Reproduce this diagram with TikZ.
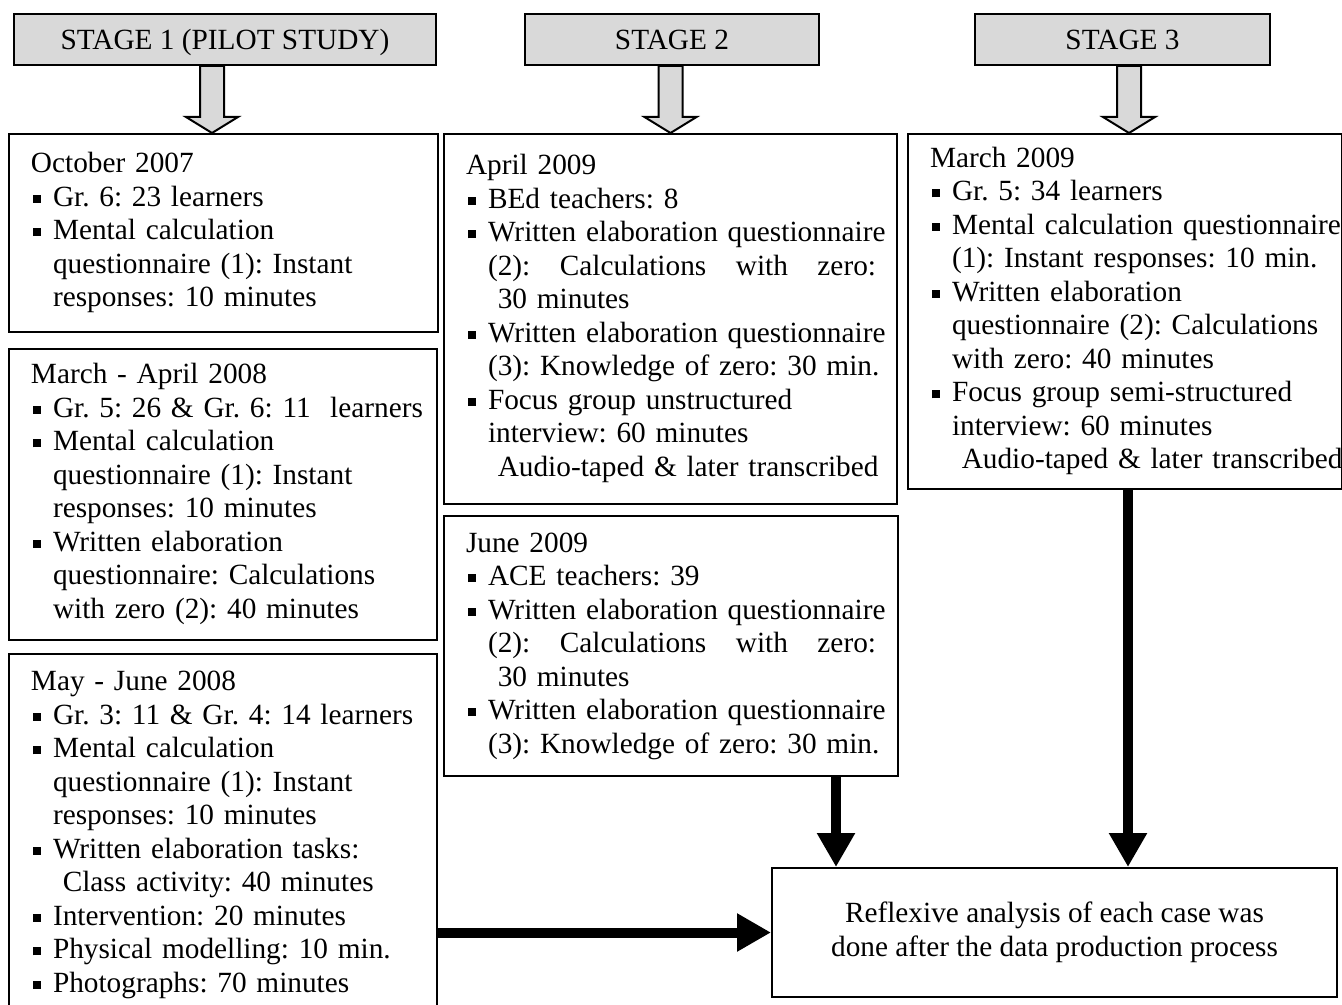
\documentclass[tikz,border=0pt]{standalone}
\usepackage{fontspec}
\setmainfont{Liberation Serif}
\frenchspacing
\usetikzlibrary{arrows.meta,calc}
\tikzset{
  txt/.style = {font=\fontsize{14.65pt}{16.75pt}\selectfont},
  stage/.style = {txt, draw=black, fill=gray!30, line width=1pt,
    minimum height=25.5pt, inner sep=0pt, text height=9.7pt, text depth=0pt},
  case/.style = {txt, draw=black, line width=1pt, anchor=north west,
    inner xsep=11pt, inner ysep=0pt, align=left},
  result/.style = {txt, draw=black, line width=1pt, align=center,
    minimum width=282.5pt, minimum height=64.5pt},
  stagearr/.style = {draw=black, fill=gray!30, line width=1pt},
  flow/.style = {line width=5pt, -{Triangle[length=17pt,width=18pt]}}
}
\newcommand{\bul}{\hspace*{1pt}\rule[1.8pt]{4pt}{4pt}\hspace*{6pt}}
\newcommand{\cnt}{\hspace*{11pt}}
\newcommand{\lines}[1]{\noindent\begin{tabular}{@{}l@{}}#1\end{tabular}}
\newcommand{\stagearrow}[3][0pt]{%
  \draw[stagearr] let \p1=(#2.south), \p2=([xshift=#1]#3.north) in
    (\x2-6pt,\y1) -- (\x2-6pt,\y2+8pt) -- (\x2-13pt,\y2+8pt) -- (\x2,\y2)
    -- (\x2+13pt,\y2+8pt) -- (\x2+6pt,\y2+8pt) -- (\x2+6pt,\y1) -- cycle;}

\begin{document}
\begin{tikzpicture}[x=0.5pt,y=-0.5pt]
\useasboundingbox (0,0) rectangle (1342,1005);

% stage headers
\node [stage, minimum width=211pt] (s1) at (225,39.5) {STAGE 1 (PILOT STUDY)};
\node [stage, minimum width=147pt] (s2) at (672,39.5) {STAGE 2};
\node [stage, minimum width=147.5pt] (s3) at (1122.5,39.5) {STAGE 3};

% stage 1
\node [case, text width=192.5pt, minimum height=99pt] (oct07) at (8,133) {\lines{%
  October 2007\\
  \bul Gr. 6: 23 learners\\
  \bul Mental calculation\\
  \cnt questionnaire (1): Instant\\
  \cnt responses: 10 minutes}};
\node [case, text width=192pt, minimum height=145.5pt] (marapr08) at (8,348) {\lines{%
  March - April 2008\\
  \bul Gr. 5: 26 \& Gr. 6: 11\ \ learners\\
  \bul Mental calculation\\
  \cnt questionnaire (1): Instant\\
  \cnt responses: 10 minutes\\
  \bul Written elaboration\\
  \cnt questionnaire: Calculations\\
  \cnt with zero (2): 40 minutes}};
\node [case, text width=192pt, minimum height=181pt] (mayjun08) at (8,653) {\lines{%
  May - June 2008\\
  \bul Gr. 3: 11 \& Gr. 4: 14 learners\\
  \bul Mental calculation\\
  \cnt questionnaire (1): Instant\\
  \cnt responses: 10 minutes\\
  \bul Written elaboration tasks:\\
  \cnt\ Class activity: 40 minutes\\
  \bul Intervention: 20 minutes\\
  \bul Physical modelling: 10 min.\\
  \bul Photographs: 70 minutes}};

% stage 2
\node [case, text width=204.5pt, minimum height=185pt] (apr09) at (443,133) {\lines{%
  April 2009\\
  \bul BEd teachers: 8\\
  \bul Written elaboration questionnaire\\
  \cnt\makebox[194pt][l]{(2):\hfill Calculations\hfill with\hfill zero:}\\
  \cnt\ 30 minutes\\
  \bul Written elaboration questionnaire\\
  \cnt (3): Knowledge of zero: 30 min.\\
  \bul Focus group unstructured\\
  \cnt interview: 60 minutes\\
  \cnt\ Audio-taped \& later transcribed}};
\node [case, text width=205pt, minimum height=130pt] (jun09) at (443,515) {\lines{%
  June 2009\\
  \bul ACE teachers: 39\\
  \bul Written elaboration questionnaire\\
  \cnt\makebox[194pt][l]{(2):\hfill Calculations\hfill with\hfill zero:}\\
  \cnt\ 30 minutes\\
  \bul Written elaboration questionnaire\\
  \cnt (3): Knowledge of zero: 30 min.}};

% stage 3
\node [case, text width=195pt, minimum height=177.5pt] (mar09) at (907,133) {\lines{%
  March 2009\\
  \bul Gr. 5: 34 learners\\
  \bul Mental calculation questionnaire\\
  \cnt (1): Instant responses: 10 min.\\
  \bul Written elaboration\\
  \cnt questionnaire (2): Calculations\\
  \cnt with zero: 40 minutes\\
  \bul Focus group semi-structured\\
  \cnt interview: 60 minutes\\
  \cnt\ Audio-taped \& later transcribed}};

\node [result] (reflex) at (1054.5,932.5) {Reflexive analysis of each case was\\
  done after the data production process};

\stagearrow[-5.75pt]{s1}{oct07}
\stagearrow{s2}{apr09}
\stagearrow[2pt]{s3}{mar09}

\coordinate (m2) at (836,0);
\coordinate (m3) at (1128,0);
\draw [flow] (mayjun08.east |- reflex.west) -- (reflex.west);
\draw [flow] (jun09.south -| m2) -- (reflex.north -| m2);
\draw [flow] (mar09.south -| m3) -- (reflex.north -| m3);
\end{tikzpicture}
\end{document}
